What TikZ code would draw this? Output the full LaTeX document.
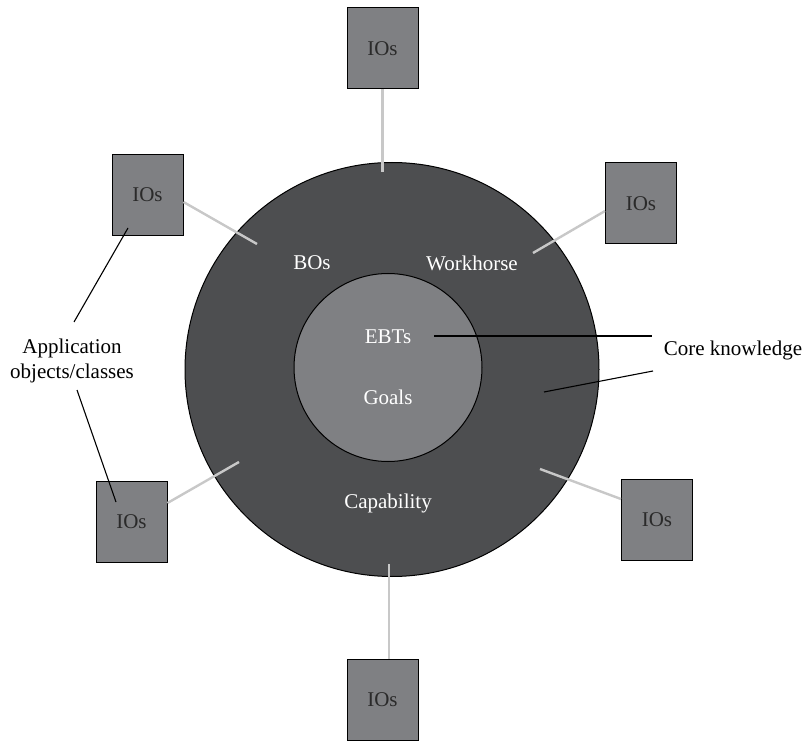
\documentclass[tikz,border=0pt]{standalone}
\usepackage{fontspec}
\setmainfont{Liberation Serif}
\usetikzlibrary{calc}
\definecolor{ringgray}{HTML}{4D4E50}
\definecolor{coregray}{HTML}{7F8083}
\definecolor{spokegray}{HTML}{C8C8C8}
\definecolor{inktext}{HTML}{2A2A2A}
\begin{document}
\begin{tikzpicture}[x=1pt,y=-1pt,
  txt/.style={font=\fontsize{21}{25}\selectfont, inner sep=0pt},
  light/.style={txt, text=white},
  iobox/.style={draw=black, line width=1pt, fill=coregray, minimum width=71pt,
    minimum height=81pt, inner sep=0pt, font=\fontsize{21}{25}\selectfont, text=inktext},
  spoke/.style={draw=spokegray, line width=2.4pt},
  pointer/.style={draw=black, line width=1.1pt}]
\useasboundingbox (0,0) rectangle (807,741);

% rings
\node[circle, draw=black, line width=1pt, fill=ringgray, minimum size=414pt, inner sep=0pt] (outer) at (392,369.5) {};
\node[circle, draw=black, line width=1pt, fill=coregray, minimum size=188pt, inner sep=0pt] (inner) at (388,367.5) {};

% spoke ends inside the outer ring
\coordinate (sT) at (382.5,172);
\coordinate (sUL) at (257,244);
\coordinate (sUR) at (533,253);
\coordinate (sLL) at (239,462);
\coordinate (sLR) at (540,469);
\coordinate (sB) at (389,564);

% interface object boxes
\node[iobox] (bT) at (382.5,48.5) {IOs};
\node[iobox] (bUL) at (147.5,195) {IOs};
\node[iobox] (bUR) at (641,203.5) {IOs};
\node[iobox] (bLL) at (131.5,521.5) {IOs};
\node[iobox] (bLR) at (657,519.5) {IOs};
\node[iobox] (bB) at (382.5,699.5) {IOs};

\draw[spoke] (bT.south) -- (sT);
\draw[spoke] ([yshift=-7pt]bUL.east) -- (sUL);
\draw[spoke] ([yshift=-7.5pt]bUR.west) -- (sUR);
\draw[spoke] ([yshift=18.5pt]bLL.east) -- (sLL);
\draw[spoke] ([yshift=20.5pt]bLR.west) -- (sLR);
\draw[spoke] ([xshift=6.5pt]bB.north) -- (sB);

% ring labels
\node[light] (bos) at (312,263) {BOs};
\node[light] (work) at (472,263) {Workhorse};
\node[light] (ebts) at (388,337) {EBTs};
\node[light] (goals) at (388,397) {Goals};
\node[light] (cap) at (388,503) {Capability};

% side labels and their pointers
\node[txt, align=center] (app) at (72,360.5) {Application\\objects/classes};
\node[txt] (core) at (733,350) {Core knowledge};

\coordinate (pUL) at (128,228);
\coordinate (pLL) at (116,502);
\coordinate (aTop) at (74,322);
\coordinate (aBot) at (77,390);
\draw[pointer] (pUL) -- (aTop);
\draw[pointer] (aBot) -- (pLL);

\coordinate (pEBT) at (434,336);
\coordinate (pRing) at (544,392);
\coordinate (cTop) at (652,336);
\coordinate (cBot) at (653,371);
\draw[pointer] (pEBT) -- (cTop);
\draw[pointer] (cBot) -- (pRing);
\end{tikzpicture}
\end{document}
